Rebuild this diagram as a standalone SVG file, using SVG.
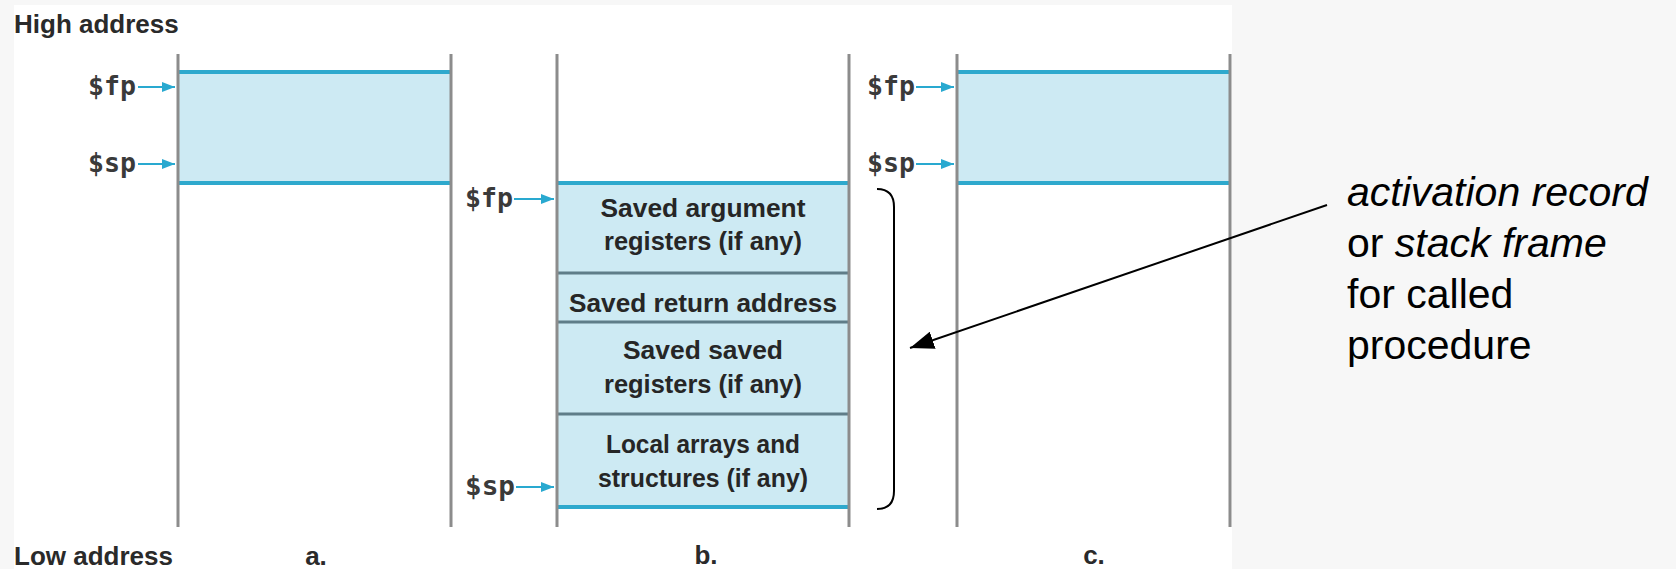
<svg xmlns="http://www.w3.org/2000/svg" width="1676" height="569" viewBox="0 0 1676 569">
<defs>
<marker id="cyanHead" markerUnits="userSpaceOnUse" markerWidth="13" markerHeight="10" refX="13" refY="5" orient="auto"><path d="M0,0 L13,5 L0,10 Z" fill="#29a9d0"/></marker>
<marker id="blackHead" markerUnits="userSpaceOnUse" markerWidth="24" markerHeight="18" refX="24" refY="9" orient="auto"><path d="M0,0 L24,9 L0,18 Z" fill="#000"/></marker>
</defs>
<style>
.wall{stroke:#8c8c8c;stroke-width:3}
.frame{fill:#cdeaf3}
.edge{stroke:#2ea9cd;stroke-width:4}
.div{stroke:#5f7d88;stroke-width:3}
.reg{font-family:"DejaVu Sans Mono","Liberation Mono",monospace;font-size:26px;font-weight:bold;fill:#3a3a3a}
.ptr{stroke:#29a9d0;stroke-width:2;marker-end:url(#cyanHead)}
.lbl{font-family:"Liberation Sans",Arial,sans-serif;font-size:26px;font-weight:bold;fill:#2a2a2a}
.box{font-family:"Liberation Sans",Arial,sans-serif;font-size:25px;font-weight:bold;fill:#262626;text-anchor:middle}
.note{font-family:"Liberation Sans",Arial,sans-serif;font-size:41px;fill:#000}
</style>
<rect x="0" y="0" width="1676" height="569" fill="#f7f7f7"/>
<rect x="14" y="5" width="1218" height="564" fill="#ffffff"/>

<text class="lbl" x="14" y="33">High address</text>
<text class="lbl" x="14" y="565">Low address</text>

<g id="stack-a">
<rect class="frame" x="178" y="72" width="273" height="111"/>
<line class="edge" x1="178" y1="72" x2="451" y2="72"/>
<line class="edge" x1="178" y1="183" x2="451" y2="183"/>
<line class="wall" x1="178" y1="54" x2="178" y2="527"/>
<line class="wall" x1="451" y1="54" x2="451" y2="527"/>
<text class="reg" x="88" y="95" textLength="48" lengthAdjust="spacingAndGlyphs">$fp</text>
<line class="ptr" x1="138" y1="87" x2="175" y2="87"/>
<text class="reg" x="88" y="172" textLength="48" lengthAdjust="spacingAndGlyphs">$sp</text>
<line class="ptr" x1="138" y1="164" x2="175" y2="164"/>
<text class="lbl" x="316" y="565" text-anchor="middle">a.</text>
</g>

<g id="stack-b">
<rect class="frame" x="557" y="183" width="292" height="324"/>
<line class="edge" x1="557" y1="183" x2="849" y2="183"/>
<line class="edge" x1="557" y1="507" x2="849" y2="507"/>
<line class="div" x1="557" y1="273" x2="849" y2="273"/>
<line class="div" x1="557" y1="322" x2="849" y2="322"/>
<line class="div" x1="557" y1="414" x2="849" y2="414"/>
<line class="wall" x1="557" y1="54" x2="557" y2="527"/>
<line class="wall" x1="849" y1="54" x2="849" y2="527"/>
<text class="box" x="703" y="217" textLength="205" lengthAdjust="spacingAndGlyphs">Saved argument</text>
<text class="box" x="703" y="250" textLength="198" lengthAdjust="spacingAndGlyphs">registers (if any)</text>
<text class="box" x="703" y="312" textLength="268" lengthAdjust="spacingAndGlyphs">Saved return address</text>
<text class="box" x="703" y="359" textLength="160" lengthAdjust="spacingAndGlyphs">Saved saved</text>
<text class="box" x="703" y="393" textLength="198" lengthAdjust="spacingAndGlyphs">registers (if any)</text>
<text class="box" x="703" y="453" textLength="194" lengthAdjust="spacingAndGlyphs">Local arrays and</text>
<text class="box" x="703" y="487" textLength="210" lengthAdjust="spacingAndGlyphs">structures (if any)</text>
<text class="reg" x="465" y="207" textLength="48" lengthAdjust="spacingAndGlyphs">$fp</text>
<line class="ptr" x1="514" y1="199" x2="554" y2="199"/>
<text class="reg" x="465" y="495" textLength="50" lengthAdjust="spacingAndGlyphs">$sp</text>
<line class="ptr" x1="516" y1="487" x2="554" y2="487"/>
<text class="lbl" x="706" y="564" text-anchor="middle">b.</text>
</g>

<g id="stack-c">
<rect class="frame" x="957" y="72" width="273" height="111"/>
<line class="edge" x1="957" y1="72" x2="1230" y2="72"/>
<line class="edge" x1="957" y1="183" x2="1230" y2="183"/>
<line class="wall" x1="957" y1="54" x2="957" y2="527"/>
<line class="wall" x1="1230" y1="54" x2="1230" y2="527" stroke="#6a6a6a"/>
<text class="reg" x="867" y="95" textLength="48" lengthAdjust="spacingAndGlyphs">$fp</text>
<line class="ptr" x1="916" y1="87" x2="954" y2="87"/>
<text class="reg" x="867" y="172" textLength="48" lengthAdjust="spacingAndGlyphs">$sp</text>
<line class="ptr" x1="916" y1="164" x2="954" y2="164"/>
<text class="lbl" x="1094" y="564" text-anchor="middle">c.</text>
</g>

<g id="note">
<text class="note" x="1347" y="206"><tspan font-style="italic">activation record</tspan></text>
<text class="note" x="1347" y="257">or <tspan font-style="italic">stack frame</tspan></text>
<text class="note" x="1347" y="308">for called</text>
<text class="note" x="1347" y="359">procedure</text>
</g>

<g id="connectors" fill="none" stroke="#000" stroke-width="2">
<path d="M877,189 Q894,189 894,207 L894,491 Q894,509 877,509"/>
<line x1="1327" y1="205" x2="910" y2="348" marker-end="url(#blackHead)"/>
</g>
</svg>
